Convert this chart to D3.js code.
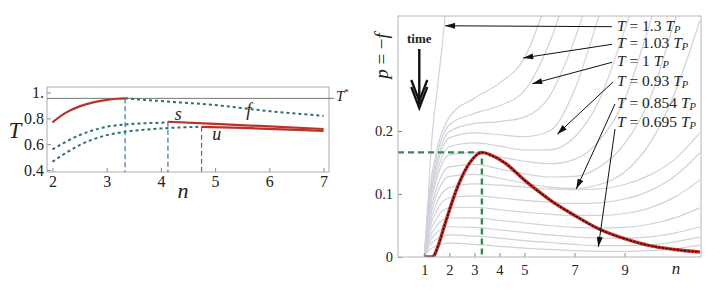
<!DOCTYPE html>
<html>
<head>
<meta charset="utf-8">
<script src="https://cdn.jsdelivr.net/npm/d3@7"></script>
<style>
  body { margin: 0; background: #fff; }
  svg text { font-family: "Liberation Serif", "Times New Roman", serif; fill: #222; }
  .tick line { stroke: #888; }
</style>
</head>
<body>
<svg id="chart" width="720" height="299"></svg>
<script>
// ---- left panel: T against n ----
var leftXTicks = [2, 3, 4, 5, 6, 7];
var leftYTicks = [0.4, 0.6, 0.8, 1.0];
var leftYLabels = ["0.4", "0.6", "0.8", "1."];
var tStar = 0.955;

var redRiseN = [2, 2.25, 2.5, 2.75, 3, 3.2, 3.34];
var redRiseT = [0.77, 0.845, 0.893, 0.924, 0.943, 0.952, 0.955];
var fN = [3.34, 4, 5, 6, 7];
var fT = [0.955, 0.934, 0.903, 0.856, 0.82];
var sDotN = [2, 2.5, 3, 3.34, 3.7, 4.13];
var sDotT = [0.56, 0.67, 0.735, 0.753, 0.762, 0.768];
var uDotN = [2, 2.5, 3, 3.34, 4, 4.75];
var uDotT = [0.464, 0.593, 0.67, 0.696, 0.722, 0.735];
var sN = [4.13, 5, 6, 7];
var sT = [0.774, 0.757, 0.738, 0.718];
var uN = [4.75, 5.5, 6.25, 7];
var uT = [0.735, 0.726, 0.715, 0.703];
var dropN = [3.34, 4.13, 4.75];
var dropT = [0.955, 0.774, 0.735];

// ---- right panel: p = -f against n ----
var rightXTicks = [1, 2, 3, 4, 5, 7, 9];
var rightYTicks = [0, 0.1, 0.2];
var nGrid = [1, 1.2, 1.5, 2, 3, 4, 5, 6, 7, 8, 9, 10, 11, 12];
var hotN = [1, 1.15, 1.3, 1.5, 1.7, 1.85];
var hotP = [0, 0.09, 0.186, 0.26, 0.33, 0.39];
var isotherms = [
  [0, 0.1, 0.17, 0.222, 0.252, 0.276, 0.316, 0.42],
  [0, 0.094, 0.16, 0.21, 0.228, 0.24, 0.264, 0.34, 0.46],
  [0, 0.086, 0.15, 0.199, 0.212, 0.215, 0.222, 0.255, 0.345, 0.47],
  [0, 0.082, 0.143, 0.189, 0.197, 0.194, 0.191, 0.2, 0.265, 0.385, 0.5],
  [0, 0.076, 0.133, 0.175, 0.181, 0.176, 0.17, 0.17, 0.19, 0.25, 0.36, 0.48],
  [0, 0.07, 0.124, 0.162, 0.166, 0.159, 0.152, 0.148, 0.155, 0.185, 0.25, 0.37, 0.5],
  [0, 0.062, 0.11, 0.143, 0.147, 0.14, 0.132, 0.127, 0.128, 0.143, 0.18, 0.25, 0.375, 0.5],
  [0, 0.056, 0.099, 0.128, 0.131, 0.125, 0.117, 0.111, 0.109, 0.115, 0.135, 0.18, 0.26, 0.375],
  [0, 0.049, 0.086, 0.11, 0.116, 0.114, 0.111, 0.108, 0.107, 0.108, 0.115, 0.13, 0.155, 0.197],
  [0, 0.043, 0.074, 0.094, 0.097, 0.094, 0.09, 0.087, 0.085, 0.086, 0.092, 0.105, 0.128, 0.165],
  [0, 0.036, 0.062, 0.078, 0.079, 0.075, 0.071, 0.068, 0.066, 0.066, 0.069, 0.078, 0.095, 0.122],
  [0, 0.029, 0.05, 0.062, 0.062, 0.058, 0.054, 0.05, 0.047, 0.046, 0.047, 0.052, 0.062, 0.078],
  [0, 0.023, 0.039, 0.048, 0.047, 0.043, 0.039, 0.035, 0.032, 0.03, 0.03, 0.032, 0.038, 0.048],
  [0, 0.017, 0.029, 0.035, 0.033, 0.03, 0.026, 0.023, 0.02, 0.018, 0.018, 0.019, 0.024, 0.032],
  [0, 0.011, 0.018, 0.022, 0.02, 0.017, 0.014, 0.012, 0.01, 0.009, 0.009, 0.01, 0.013, 0.019]
];
var peakN = [1, 1.2, 1.36, 1.5, 1.83, 2, 2.23, 2.5, 2.9, 3.3, 3.7, 4.23, 5, 5.5, 6, 7, 8, 9, 10, 11, 12];
var peakP = [0, 0, 0.001, 0.012, 0.053, 0.074, 0.101, 0.127, 0.154, 0.166, 0.161, 0.149, 0.122, 0.106, 0.091, 0.066, 0.044, 0.029, 0.018, 0.012, 0.008];
var peakAt = [3.3, 0.166];
var legendValues = ["1.3", "1.03", "1", "0.93", "0.854", "0.695"];
var arrowTipN = [1.83, 4.95, 5.31, 6.31, 7.07, 7.95];
var arrowTipP = [0.367, 0.316, 0.275, 0.195, 0.108, 0.016];

var serif = '"Liberation Serif", "Times New Roman", serif';
var svg = d3.select("#chart").style("font-family", serif);

function zip(a, b) { return a.map((v, i) => [v, b[i]]); }
function styleAxis(g, size) {
  g.select(".domain").remove();
  g.attr("font-family", serif);
  g.selectAll(".tick text").style("font-family", serif).style("font-size", size).attr("fill", "#333");
}

// ================= left panel =================
var L = {left: 47, right: 329, top: 87, bottom: 172};
var xL = d3.scaleLinear().domain([1.9, 7.1]).range([L.left, L.right]);
var yL = d3.scaleLinear().domain([0.385, 1.043]).range([L.bottom, L.top]);
var lineL = d3.line().x(d => xL(d[0])).y(d => yL(d[1])).curve(d3.curveMonotoneX);

svg.append("g").attr("transform", "translate(0," + L.bottom + ")")
  .call(d3.axisBottom(xL).tickValues(leftXTicks).tickFormat(d3.format("d")).tickSize(-4).tickPadding(4))
  .call(g => styleAxis(g, "16px"));
svg.append("g").attr("transform", "translate(" + L.left + ",0)")
  .call(d3.axisLeft(yL).tickValues(leftYTicks).tickFormat((d, i) => leftYLabels[i]).tickSize(-4).tickPadding(3))
  .call(g => styleAxis(g, "16px"));

svg.append("rect").attr("x", L.left).attr("y", L.top)
  .attr("width", L.right - L.left).attr("height", L.bottom - L.top)
  .attr("fill", "none").attr("stroke", "#aaa");

// T* line
svg.append("line").attr("x1", L.left).attr("x2", L.right + 5)
  .attr("y1", yL(tStar)).attr("y2", yL(tStar)).attr("stroke", "#555").attr("stroke-width", 0.8);

// dashed blue drops
svg.selectAll("line.drop").data(dropN).enter().append("line").attr("class", "drop")
  .attr("x1", d => xL(d)).attr("x2", d => xL(d))
  .attr("y1", (d, i) => yL(dropT[i])).attr("y2", L.bottom)
  .attr("stroke", "#4a7db0").attr("stroke-width", 1.3).attr("stroke-dasharray", "5,3");

// dotted teal curves
[zip(fN, fT), zip(sDotN, sDotT), zip(uDotN, uDotT)].forEach(function(pts) {
  svg.append("path").attr("d", lineL(pts)).attr("fill", "none")
    .attr("stroke", "#2c6e78").attr("stroke-width", 2).attr("stroke-dasharray", "3,3");
});

// solid red curves
[zip(redRiseN, redRiseT), zip(sN, sT), zip(uN, uT)].forEach(function(pts) {
  svg.append("path").attr("d", lineL(pts)).attr("fill", "none")
    .attr("stroke", "#b8342a").attr("stroke-width", 2.2);
});

function italic(x, y, txt, size) {
  return svg.append("text").attr("x", x).attr("y", y).attr("text-anchor", "middle")
    .attr("dominant-baseline", "middle").attr("font-style", "italic")
    .attr("font-size", size).text(txt);
}
italic(xL(5.62), yL(0.85), "f", "18px");
italic(xL(4.32), yL(0.82), "s", "18px");
italic(xL(5.03), yL(0.665), "u", "18px");
italic(183, 193, "n", "22px");
italic(15, 133, "T", "23px");
var ts = svg.append("text").attr("x", L.right + 7).attr("y", yL(tStar)).attr("dominant-baseline", "middle")
  .attr("font-size", "15px").attr("font-style", "italic");
ts.append("tspan").text("T");
ts.append("tspan").attr("font-size", "9px").attr("dy", -5).attr("font-style", "normal").text("*");

// ================= right panel =================
var R = {left: 398, right: 701, top: 16, bottom: 257};
var xR = d3.scaleLinear().domain([-0.05, 12.05]).range([R.left, R.right]);
var yR = d3.scaleLinear().domain([0, 0.3825]).range([R.bottom, R.top]);
var lineR = d3.line().x(d => xR(d[0])).y(d => yR(d[1])).curve(d3.curveMonotoneX);

svg.append("clipPath").attr("id", "clipR").append("rect")
  .attr("x", R.left).attr("y", R.top).attr("width", R.right - R.left).attr("height", R.bottom - R.top);

var plotR = svg.append("g").attr("clip-path", "url(#clipR)");

// isotherms
plotR.selectAll("path.iso").data(isotherms).enter().append("path").attr("class", "iso")
  .attr("d", d => lineR(d.map((p, i) => [nGrid[i], p])))
  .attr("fill", "none").attr("stroke", "#cfd3d9").attr("stroke-width", 1.2);
plotR.append("path").attr("d", lineR(zip(hotN, hotP)))
  .attr("fill", "none").attr("stroke", "#cfd3d9").attr("stroke-width", 1.2);

// green dashed guides to the peak
plotR.append("path")
  .attr("d", "M" + xR(-0.05) + "," + yR(peakAt[1]) + "H" + xR(peakAt[0]) + "V" + yR(0))
  .attr("fill", "none").attr("stroke", "#2f8a4f").attr("stroke-width", 2.4).attr("stroke-dasharray", "6,4");

// red envelope curve
var peakPts = zip(peakN, peakP);
plotR.append("path").attr("d", lineR(peakPts)).attr("fill", "none")
  .attr("stroke", "#d0312b").attr("stroke-width", 3.4);
plotR.append("path").attr("d", lineR(peakPts)).attr("fill", "none")
  .attr("stroke", "#2a0a0a").attr("stroke-width", 1.4).attr("stroke-dasharray", "2.5,1.2");

// axes
svg.append("g").attr("transform", "translate(0," + R.bottom + ")")
  .call(d3.axisBottom(xR).tickValues(rightXTicks).tickFormat(d3.format("d")).tickSize(-4).tickPadding(8))
  .call(g => styleAxis(g, "14.5px"));
svg.append("g").attr("transform", "translate(" + R.left + ",0)")
  .call(d3.axisLeft(yR).tickValues(rightYTicks).tickFormat(d => d === 0 ? "0" : d3.format(".1f")(d)).tickSize(-4).tickPadding(5))
  .call(g => styleAxis(g, "14.5px"));

svg.append("rect").attr("x", R.left).attr("y", R.top)
  .attr("width", R.right - R.left).attr("height", R.bottom - R.top)
  .attr("fill", "none").attr("stroke", "#b5b5b5");

italic(676, 270, "n", "17px");
var yl = svg.append("text").attr("transform", "translate(384,56) rotate(-90)")
  .attr("text-anchor", "middle").attr("dominant-baseline", "middle").attr("font-size", "19px");
yl.append("tspan").attr("font-style", "italic").text("p");
yl.append("tspan").text(" = \u2212");
yl.append("tspan").attr("font-style", "italic").text("f");

// time arrow with a doubled head
var tx = xR(0.8);
svg.append("text").attr("x", tx).attr("y", 40).attr("text-anchor", "middle")
  .attr("dominant-baseline", "middle").attr("font-weight", "bold").attr("font-size", "13px").text("time");
svg.append("line").attr("x1", tx).attr("x2", tx).attr("y1", 49).attr("y2", 104)
  .attr("stroke", "#111").attr("stroke-width", 2.4);
[80, 87].forEach(function(y0) {
  svg.append("path").attr("d", "M" + (tx - 8) + "," + y0 + " L" + tx + "," + (y0 + 21) + " L" + (tx + 8) + "," + y0)
    .attr("fill", "none").attr("stroke", "#111").attr("stroke-width", 2.3);
});

// legend labels and arrows
var defs = svg.append("defs");
defs.append("marker").attr("id", "ah").attr("viewBox", "0 0 10 6").attr("refX", 10).attr("refY", 3)
  .attr("markerWidth", 12).attr("markerHeight", 6).attr("markerUnits", "userSpaceOnUse")
  .attr("orient", "auto").append("path").attr("d", "M0,0 L10,3 L0,6 Z").attr("fill", "#111");

var labelY = [26.7, 44.3, 62.3, 81.7, 104.3, 123.3];
var labelX = 617;
var arrowStartX = [612, 612, 612, 613, 615, 615];
var arrowStartY = [26.7, 44.3, 62.3, 82, 104, 129];

svg.selectAll("line.arr").data(arrowTipN).enter().append("line").attr("class", "arr")
  .attr("x1", (d, i) => arrowStartX[i]).attr("y1", (d, i) => arrowStartY[i])
  .attr("x2", d => xR(d)).attr("y2", (d, i) => yR(arrowTipP[i]))
  .attr("stroke", "#111").attr("stroke-width", 1).attr("marker-end", "url(#ah)");

legendValues.forEach(function(v, i) {
  var t = svg.append("text").attr("x", labelX).attr("y", labelY[i])
    .attr("dominant-baseline", "middle").attr("font-size", "15.5px").attr("fill", "#333");
  t.append("tspan").attr("font-style", "italic").text("T");
  t.append("tspan").text(" = " + v + " ");
  t.append("tspan").attr("font-style", "italic").text("T");
  t.append("tspan").attr("font-style", "italic").attr("font-size", "10.5px").attr("dy", 4).text("P");
});
</script>
</body>
</html>
